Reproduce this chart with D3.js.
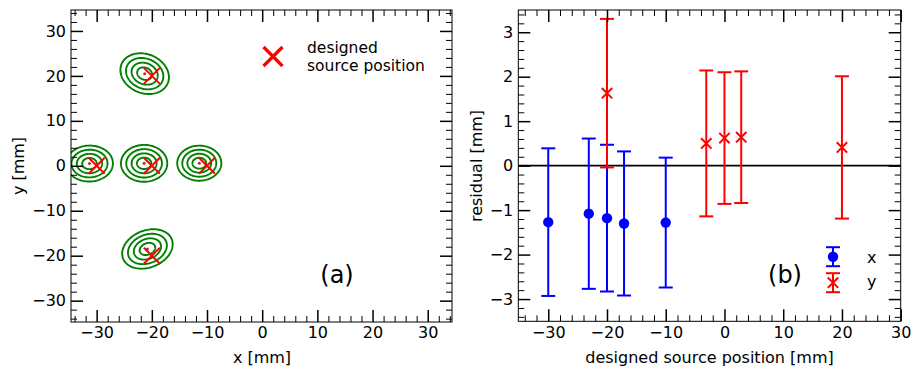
<!DOCTYPE html>
<html>
<head>
<meta charset="utf-8">
<script src="https://cdn.jsdelivr.net/npm/d3@7"></script>
<style>
  body { margin: 0; background: #fff; }
  svg { display: block; font-family: "DejaVu Sans", sans-serif; }
</style>
</head>
<body>
<div id="container"></div>
<script>
// panel (a): designed source positions and fitted contour ellipses
const designedX = [-30, -20, -10, -20, -20];
const designedY = [0, 0, 0, 20, -20];
const fitX = [-31.3, -21.4, -11.4, -21.3, -20.8];
const fitY = [0.5, 0.55, 0.58, 20.5, -18.5];
const ellipseA = [4.25, 4.2, 4.0, 4.85, 5.0];
const ellipseB = [4.0, 4.1, 3.9, 4.05, 3.9];
const ellipseAngle = [5, 5, 5, -50, 40];
const ringLevels = [1, 0.77, 0.54, 0.31];

// panel (b): residuals
const xResPos = [-30, -23.1, -20, -17.1, -10];
const xRes = [-1.27, -1.08, -1.18, -1.30, -1.28];
const xResErr = [1.66, 1.69, 1.65, 1.62, 1.46];
const yResPos = [-20, -3.1, 0, 2.85, 20];
const yRes = [1.63, 0.50, 0.62, 0.64, 0.41];
const yResErr = [1.67, 1.64, 1.48, 1.48, 1.60];

const majorTicksA = [-30, -20, -10, 0, 10, 20, 30];
const majorTicksBx = [-30, -20, -10, 0, 10, 20, 30];
const majorTicksBy = [-3, -2, -1, 0, 1, 2, 3];

const width = 913;
const height = 370;

const svg = d3.select("#container")
  .append("svg")
  .attr("width", width)
  .attr("height", height)
  .style("background", "white");

function minorTicks(lo, hi, step, majors) {
  const out = [];
  for (let v = lo; v <= hi + 1e-9; v += step) {
    const r = Math.round(v * 1000) / 1000;
    if (!majors.some((m) => Math.abs(m - r) < 1e-6)) out.push(r);
  }
  return out;
}

// inward ticks on all four sides of the frame
function drawFrame(g, xScale, yScale, xMajor, xMinor, yMajor, yMinor) {
  const [x0, x1] = xScale.range();
  const [y1, y0] = yScale.range();

  const sides = [
    { make: () => d3.axisBottom(xScale), tr: "translate(0," + y1 + ")", major: xMajor, minor: xMinor, labels: true },
    { make: () => d3.axisTop(xScale), tr: "translate(0," + y0 + ")", major: xMajor, minor: xMinor, labels: false },
    { make: () => d3.axisLeft(yScale), tr: "translate(" + x0 + ",0)", major: yMajor, minor: yMinor, labels: true },
    { make: () => d3.axisRight(yScale), tr: "translate(" + x1 + ",0)", major: yMajor, minor: yMinor, labels: false },
  ];

  sides.forEach((s) => {
    g.append("g")
      .attr("transform", s.tr)
      .call(s.make().tickValues(s.minor).tickSizeInner(-6).tickSizeOuter(0).tickFormat(""))
      .call((sel) => sel.select(".domain").remove())
      .selectAll("line").attr("stroke-width", 1);

    const ag = g.append("g")
      .attr("transform", s.tr)
      .call(
        s.make().tickValues(s.major).tickSizeInner(-12).tickSizeOuter(0).tickPadding(5)
          .tickFormat(s.labels ? d3.format("") : "")
      )
      .call((sel) => sel.select(".domain").remove());
    ag.selectAll("line").attr("stroke-width", 1.5);
    ag.selectAll("text")
      .attr("font-size", 16)
      .attr("font-family", "DejaVu Sans")
      .attr("fill", "black");
  });

  g.append("rect")
    .attr("x", x0)
    .attr("y", y0)
    .attr("width", x1 - x0)
    .attr("height", y1 - y0)
    .attr("fill", "none")
    .attr("stroke", "black")
    .attr("stroke-width", 1);
}

function xMarker(g, cx, cy, half, color, sw) {
  g.append("path")
    .attr("d", "M" + (cx - half) + "," + (cy - half) + "L" + (cx + half) + "," + (cy + half) +
      "M" + (cx - half) + "," + (cy + half) + "L" + (cx + half) + "," + (cy - half))
    .attr("stroke", color)
    .attr("stroke-width", sw)
    .attr("fill", "none");
}

function errorBar(g, cx, yTop, yBot, color, capHalf) {
  g.append("line")
    .attr("x1", cx).attr("x2", cx)
    .attr("y1", yTop).attr("y2", yBot)
    .attr("stroke", color).attr("stroke-width", 2);
  [yTop, yBot].forEach((yy) => {
    g.append("line")
      .attr("x1", cx - capHalf).attr("x2", cx + capHalf)
      .attr("y1", yy).attr("y2", yy)
      .attr("stroke", color).attr("stroke-width", 2);
  });
}

// ---------- panel (a)
function drawPanelA() {
  const g = svg.append("g");
  const xScale = d3.scaleLinear().domain([-34.65, 34.4]).range([71, 452]);
  const yScale = d3.scaleLinear().domain([-34.75, 34.66]).range([322, 10]);

  g.append("clipPath")
    .attr("id", "clipA")
    .append("rect")
    .attr("x", 71).attr("y", 10).attr("width", 381).attr("height", 312);

  const plot = g.append("g").attr("clip-path", "url(#clipA)");

  const lineGenerator = d3.line()
    .x((d) => xScale(d[0]))
    .y((d) => yScale(d[1]))
    .curve(d3.curveLinearClosed);

  for (let i = 0; i < fitX.length; i++) {
    const th = (ellipseAngle[i] * Math.PI) / 180;
    ringLevels.forEach((lev) => {
      const a = ellipseA[i] * lev;
      const b = ellipseB[i] * lev;
      const pts = d3.range(0, 2 * Math.PI, Math.PI / 60).map((t) => [
        fitX[i] + a * Math.cos(t) * Math.cos(th) - b * Math.sin(t) * Math.sin(th),
        fitY[i] + a * Math.cos(t) * Math.sin(th) + b * Math.sin(t) * Math.cos(th),
      ]);
      plot.append("path")
        .datum(pts)
        .attr("fill", "none")
        .attr("stroke", "green")
        .attr("stroke-width", 1.9)
        .attr("d", lineGenerator);
    });
    plot.append("circle")
      .attr("cx", xScale(fitX[i]))
      .attr("cy", yScale(fitY[i]))
      .attr("r", 1.5)
      .attr("fill", "#b03030");
  }

  for (let i = 0; i < designedX.length; i++) {
    xMarker(plot, xScale(designedX[i]), yScale(designedY[i]), 8, "red", 2);
  }

  drawFrame(g, xScale, yScale,
    majorTicksA, minorTicks(-34, 34, 2, majorTicksA),
    majorTicksA, minorTicks(-34, 34, 2, majorTicksA));

  // legend
  xMarker(g, 273, 56.5, 9.5, "red", 3.2);
  g.append("text").attr("x", 307).attr("y", 52.5).attr("font-size", 15.5).text("designed");
  g.append("text").attr("x", 307).attr("y", 70.5).attr("font-size", 15.5).text("source position");

  g.append("text")
    .attr("x", 337).attr("y", 283)
    .attr("text-anchor", "middle")
    .attr("font-size", 24)
    .text("(a)");

  g.append("text")
    .attr("x", 262).attr("y", 363)
    .attr("text-anchor", "middle")
    .attr("font-size", 16)
    .text("x [mm]");

  g.append("text")
    .attr("transform", "translate(24,166) rotate(-90)")
    .attr("text-anchor", "middle")
    .attr("font-size", 16)
    .text("y [mm]");
}

// ---------- panel (b)
function drawPanelB() {
  const g = svg.append("g");
  const xScale = d3.scaleLinear().domain([-35.1, 30]).range([518.3, 900.7]);
  const yScale = d3.scaleLinear().domain([-3.5, 3.5]).range([321.3, 10]);

  g.append("line")
    .attr("x1", 518.3).attr("x2", 900.7)
    .attr("y1", yScale(0)).attr("y2", yScale(0))
    .attr("stroke", "black").attr("stroke-width", 1.8);

  for (let i = 0; i < xResPos.length; i++) {
    const cx = xScale(xResPos[i]);
    errorBar(g, cx, yScale(xRes[i] + xResErr[i]), yScale(xRes[i] - xResErr[i]), "blue", 7);
    g.append("circle")
      .attr("cx", cx).attr("cy", yScale(xRes[i]))
      .attr("r", 5.2).attr("fill", "blue");
  }

  for (let i = 0; i < yResPos.length; i++) {
    const cx = xScale(yResPos[i]);
    errorBar(g, cx, yScale(yRes[i] + yResErr[i]), yScale(yRes[i] - yResErr[i]), "red", 7);
    xMarker(g, cx, yScale(yRes[i]), 5.2, "red", 2);
  }

  drawFrame(g, xScale, yScale,
    majorTicksBx, minorTicks(-34, 30, 2, majorTicksBx),
    majorTicksBy, minorTicks(-3.4, 3.4, 0.2, majorTicksBy));

  // legend
  errorBar(g, 833, 247.2, 266.2, "blue", 7);
  g.append("circle").attr("cx", 833).attr("cy", 256.7).attr("r", 5.2).attr("fill", "blue");
  errorBar(g, 833, 273.2, 292.2, "red", 7);
  xMarker(g, 833, 282.7, 5.2, "red", 2);

  g.append("text").attr("x", 867).attr("y", 263).attr("font-size", 16).text("x");
  g.append("text").attr("x", 867).attr("y", 287).attr("font-size", 16).text("y");

  g.append("text")
    .attr("x", 785).attr("y", 283)
    .attr("text-anchor", "middle")
    .attr("font-size", 24)
    .text("(b)");

  g.append("text")
    .attr("x", 709.5).attr("y", 363)
    .attr("text-anchor", "middle")
    .attr("font-size", 16)
    .text("designed source position [mm]");

  g.append("text")
    .attr("transform", "translate(482,166) rotate(-90)")
    .attr("text-anchor", "middle")
    .attr("font-size", 16)
    .text("residual [mm]");
}

drawPanelA();
drawPanelB();
</script>
</body>
</html>
